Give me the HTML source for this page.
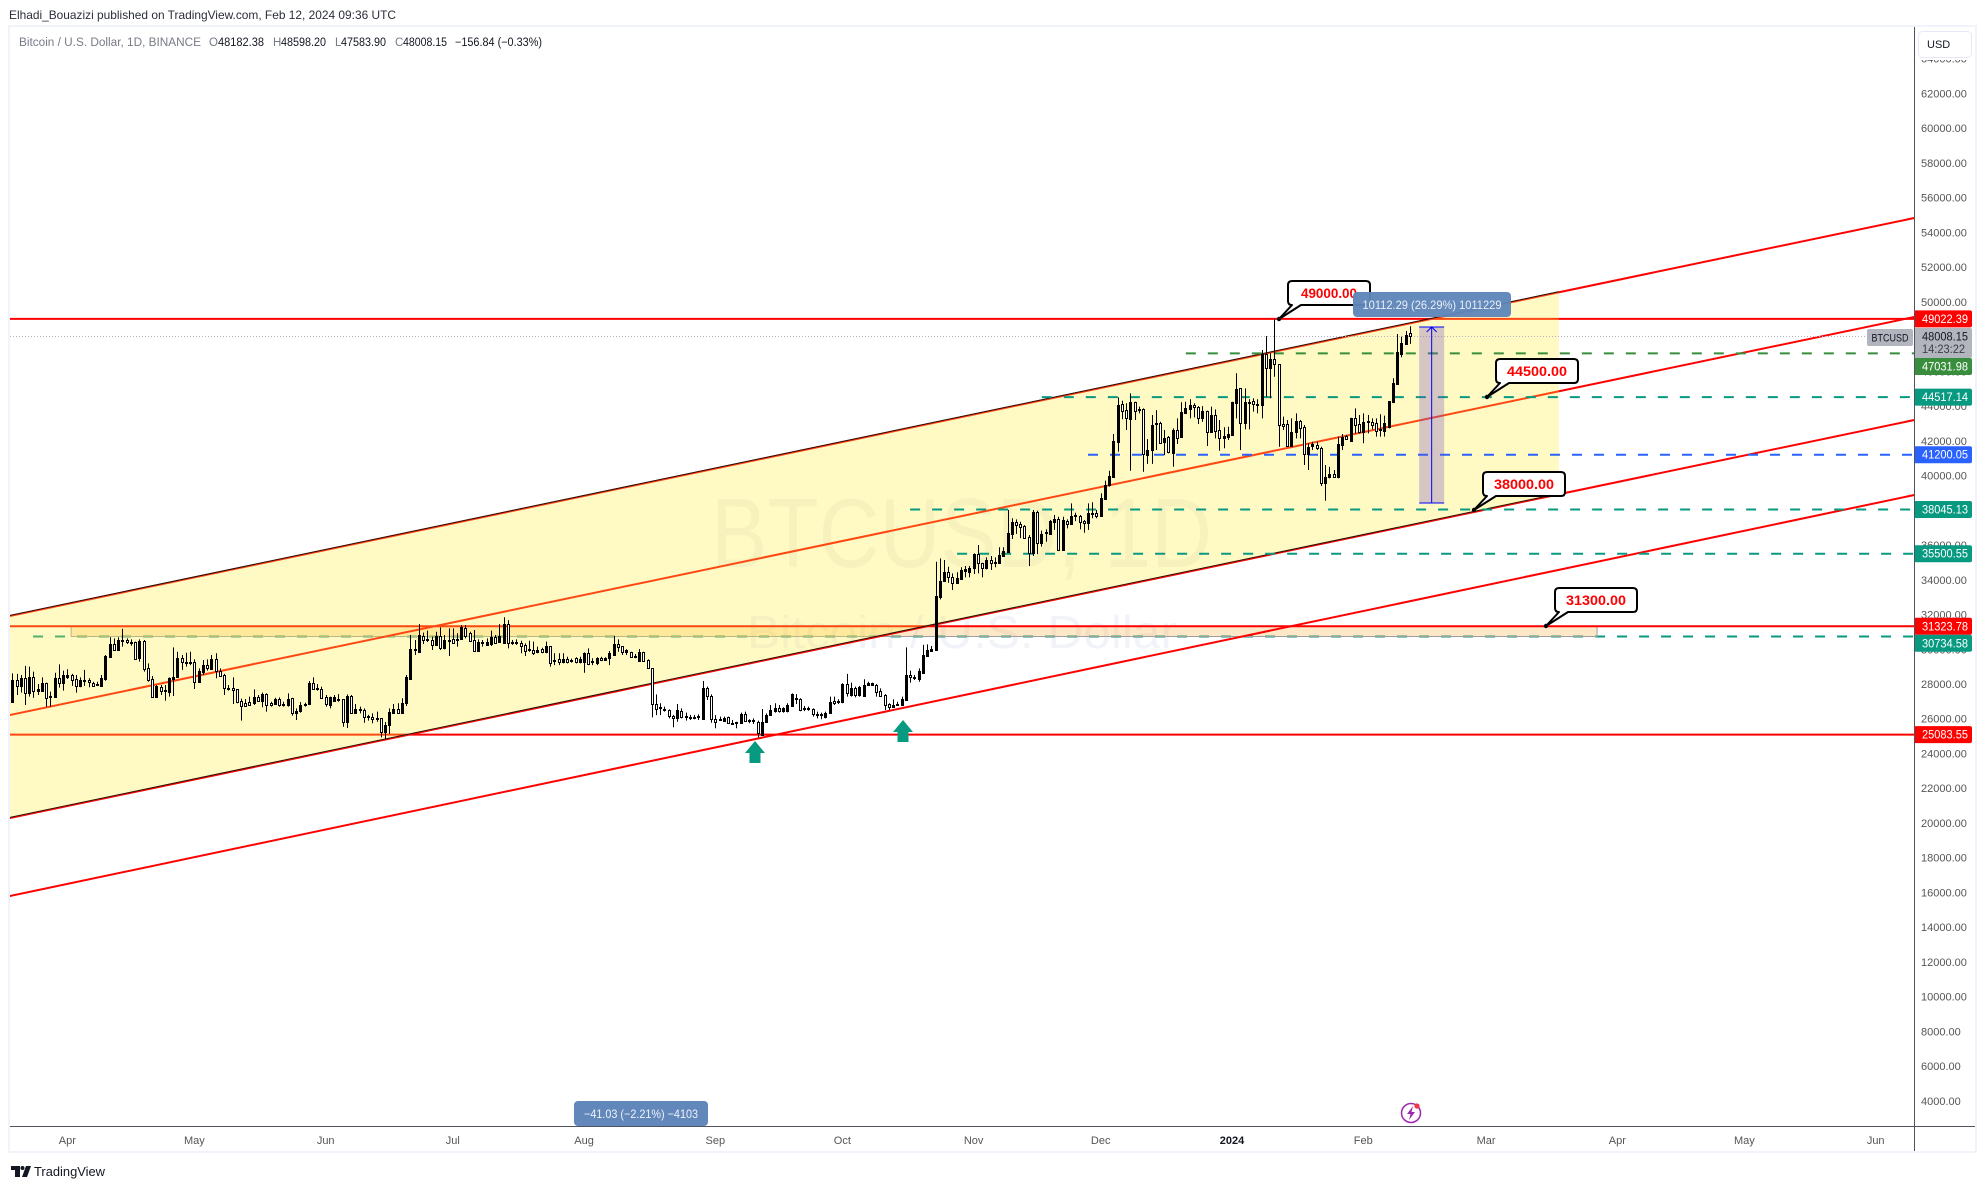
<!DOCTYPE html>
<html lang="en">
<head>
<meta charset="utf-8">
<title>BTCUSD 1D chart</title>
<style>
html,body{margin:0;padding:0;background:#fff;width:1986px;height:1189px;overflow:hidden}
svg{position:absolute;left:0;top:0;display:block}
text{font-family:"Liberation Sans",sans-serif}
</style>
</head>
<body>
<svg id="chart" width="1986" height="1189" viewBox="0 0 1986 1189" xmlns="http://www.w3.org/2000/svg">
  <defs>
    <clipPath id="pane"><rect x="10" y="27" width="1904" height="1099"/></clipPath>
  </defs>
  <text x="9" y="19" font-size="12" fill="#2a2e39" textLength="387" lengthAdjust="spacingAndGlyphs">Elhadi_Bouazizi published on TradingView.com, Feb 12, 2024 09:36 UTC</text>

  <g id="paneLayer" clip-path="url(#pane)">
    <text x="711" y="567" font-size="98" fill="#2a2e39" fill-opacity="0.05" textLength="501" lengthAdjust="spacingAndGlyphs">BTCUSD, 1D</text>
    <text x="747" y="648" font-size="46" fill="#3a5ab0" fill-opacity="0.07" textLength="430" lengthAdjust="spacingAndGlyphs">Bitcoin / U.S. Dollar</text>
    <g id="underLayer"></g>
    <g id="fillLayer"></g>
    <g id="candleLayer"></g>
    <g id="toolLayer"></g>
  </g>

  <polygon points="755,741 765,753 760.5,753 760.5,763 749.5,763 749.5,753 745,753" fill="#089981"/>
  <polygon points="903,720 913,732 908.5,732 908.5,742 897.5,742 897.5,732 893,732" fill="#089981"/>

  <g transform="translate(0,0)">
    <path d="M1292,281 H1366 Q1370,281 1370,285 V301 Q1370,305 1366,305 H1301 L1279,319 L1292,305 Q1288,305 1288,301 V285 Q1288,281 1292,281Z" fill="#fff" stroke="#000" stroke-width="2" stroke-linejoin="round"/>
    <circle cx="1279" cy="319" r="2.2" fill="#000"/>
    <text x="1329" y="298" text-anchor="middle" font-size="14" font-weight="700" fill="#ff0000" textLength="56" lengthAdjust="spacingAndGlyphs">49000.00</text>
  </g>
  <g transform="translate(208,78)">
    <path d="M1292,281 H1366 Q1370,281 1370,285 V301 Q1370,305 1366,305 H1301 L1279,319 L1292,305 Q1288,305 1288,301 V285 Q1288,281 1292,281Z" fill="#fff" stroke="#000" stroke-width="2" stroke-linejoin="round"/>
    <circle cx="1279" cy="319" r="2.2" fill="#000"/>
    <text x="1329" y="298" text-anchor="middle" font-size="14" font-weight="700" fill="#ff0000" textLength="60" lengthAdjust="spacingAndGlyphs">44500.00</text>
  </g>
  <g transform="translate(195,191)">
    <path d="M1292,281 H1366 Q1370,281 1370,285 V301 Q1370,305 1366,305 H1301 L1279,319 L1292,305 Q1288,305 1288,301 V285 Q1288,281 1292,281Z" fill="#fff" stroke="#000" stroke-width="2" stroke-linejoin="round"/>
    <circle cx="1279" cy="319" r="2.2" fill="#000"/>
    <text x="1329" y="298" text-anchor="middle" font-size="14" font-weight="700" fill="#ff0000" textLength="60" lengthAdjust="spacingAndGlyphs">38000.00</text>
  </g>
  <g transform="translate(267,307)">
    <path d="M1292,281 H1366 Q1370,281 1370,285 V301 Q1370,305 1366,305 H1301 L1279,319 L1292,305 Q1288,305 1288,301 V285 Q1288,281 1292,281Z" fill="#fff" stroke="#000" stroke-width="2" stroke-linejoin="round"/>
    <circle cx="1279" cy="319" r="2.2" fill="#000"/>
    <text x="1329" y="298" text-anchor="middle" font-size="14" font-weight="700" fill="#ff0000" textLength="60" lengthAdjust="spacingAndGlyphs">31300.00</text>
  </g>

  <g>
    <rect x="1353" y="292" width="158" height="25" rx="4" fill="#5f86ba" fill-opacity="0.96"/>
    <text x="1432" y="309" text-anchor="middle" font-size="12" fill="#e9eef6" textLength="139" lengthAdjust="spacingAndGlyphs">10112.29 (26.29%) 1011229</text>
  </g>

  <rect x="1915" y="27" width="61" height="1125" fill="#fff"/>
  <g id="tickLayer"></g>
  <rect x="1915" y="27" width="61" height="33" fill="#fff"/>
  <rect x="1918.5" y="31.5" width="53" height="26" rx="4" fill="#fff" stroke="#e6e9f1"/>
  <text x="1927" y="48" font-size="11" fill="#131722">USD</text>
  <g id="badgeLayer"></g>

  <rect x="1867" y="329" width="46" height="17" rx="2" fill="#b2b5be"/>
  <text x="1890" y="341.5" text-anchor="middle" font-size="11" fill="#131722" textLength="37" lengthAdjust="spacingAndGlyphs">BTCUSD</text>

  <g id="timeLayer"></g>
  <g>
    <rect x="574" y="1101" width="134" height="25" rx="4" fill="#6288bb"/>
    <text x="641" y="1118" text-anchor="middle" font-size="12" fill="#eef2f8" textLength="114" lengthAdjust="spacingAndGlyphs">−41.03 (−2.21%) −4103</text>
  </g>
  <g>
    <circle cx="1411" cy="1113" r="9.5" fill="none" stroke="#9c27b0" stroke-width="1.5"/>
    <polygon points="1413,1106 1407,1114 1410.5,1114 1409,1120 1415,1112 1411.5,1112" fill="#9c27b0"/>
    <circle cx="1417" cy="1106" r="2.6" fill="#f23645"/>
  </g>

  <rect x="8" y="25" width="1969" height="2" fill="#f0f3fa"/>
  <rect x="8" y="25" width="2" height="1128" fill="#f0f3fa"/>
  <rect x="1975" y="25" width="2" height="1128" fill="#f0f3fa"/>
  <rect x="8" y="1151" width="1969" height="2" fill="#f0f3fa"/>
  <rect x="1914" y="27" width="1" height="1124" fill="#50535e"/>
  <rect x="10" y="1126" width="1965" height="1" fill="#50535e"/>

  <g>
    <path d="M11,1166 H20 V1177 H15 V1170 H11 Z M26,1166 H31 L27,1177 H22 Z" fill="#131722"/>
    <circle cx="22.5" cy="1168" r="2" fill="#131722"/>
    <text x="34" y="1176" font-size="13" fill="#131722" textLength="71" lengthAdjust="spacingAndGlyphs">TradingView</text>
  </g>

  <g font-size="11.5">
    <text x="19" y="46" fill="#787b86" textLength="182" lengthAdjust="spacingAndGlyphs">Bitcoin / U.S. Dollar, 1D, BINANCE</text>
    <text x="209" y="46" fill="#787b86">O</text>
    <text x="218" y="46" fill="#131722" textLength="46" lengthAdjust="spacingAndGlyphs">48182.38</text>
    <text x="273" y="46" fill="#787b86">H</text>
    <text x="281" y="46" fill="#131722" textLength="45" lengthAdjust="spacingAndGlyphs">48598.20</text>
    <text x="335" y="46" fill="#787b86">L</text>
    <text x="341" y="46" fill="#131722" textLength="45" lengthAdjust="spacingAndGlyphs">47583.90</text>
    <text x="395" y="46" fill="#787b86">C</text>
    <text x="403" y="46" fill="#131722" textLength="44" lengthAdjust="spacingAndGlyphs">48008.15</text>
    <text x="455" y="46" fill="#131722" textLength="87" lengthAdjust="spacingAndGlyphs">−156.84 (−0.33%)</text>
  </g>
</svg>

<script>
const opens=[
26980,28230,27890,28330,27500,28420,27620,27620,28040,27230,
27250,28330,28080,28420,28520,28270,27890,28150,28230,28080,
27940,27890,28270,29570,30280,29960,30480,30530,30380,30440,
29480,30500,28900,28270,27270,27850,27650,27560,28310,28380,
29480,29290,29190,29250,28130,28710,29090,28860,29420,28750,
28500,27710,27750,27690,27000,26890,26940,26890,27250,27040,
27400,26890,26870,27140,26850,26790,27180,26350,26460,26770,
26850,28040,27770,27710,27250,26790,27020,27080,27120,25830,
27310,26350,26540,26500,26160,26100,25960,26040,25220,25640,
26310,26540,26350,26890,28290,29960,29840,30760,30530,30530,
30250,30760,30050,30460,30570,30530,30570,31240,30920,30530,
29920,30370,30250,30280,30720,30440,30340,31450,30340,30360,
30380,30250,29960,29960,29820,29990,29820,30190,29310,29420,
29250,29420,29310,29480,29250,29250,29770,29250,29190,29480,
29400,29480,29670,30300,30190,29860,29820,29530,29340,29820,
29380,28900,26830,26700,26580,26480,26180,26020,26440,26080,
26040,26060,26160,25990,27750,27310,25960,25930,25890,26080,
25780,25740,25730,26250,25890,25850,25830,25060,25790,26210,
26460,26640,26440,26440,26730,27210,27120,26560,26560,26540,
26210,26290,26120,26310,27020,26980,26940,28000,27370,27750,
27370,27330,27960,27960,27940,27600,27370,26850,26700,26790,
26790,27080,28500,28350,28310,28650,29610,29920,
29960,
33030,33930,34470,34140,33830,34060,34530,34450,34660,35480,
34950,34680,35140,35020,34990,35390,35620,36640,37330,37210,
37100,36440,35560,37920,36140,36680,36640,37350,37480,35710,
37380,37210,37680,37670,37380,37250,37820,37830,37670,38670,
39440,39940,41950,44100,43770,43260,44220,43810,43810,41200,
41470,42970,43050,41950,42240,41320,42620,42200,43620,43850,
44040,43930,43330,43700,42530,43490,42620,42140,42240,42340,
44200,45020,43010,44250,44290,44120,44060,47000,46170,46690,
46400,42950,42950,41720,42490,43140,42780,41220,41720,41760,
41570,39550,39900,40070,39900,41760,42280,42010,43290,42950,
42530,43100,43100,43010,42680,42580,42780,44250,45270,46980,47570,48182.38
];
const highs=[
28610,28580,28520,29040,29000,28710,28000,28380,28080,27560,
28650,29130,28770,28850,28580,28520,28380,28810,28330,28130,
28130,28520,29670,30690,30630,30690,31170,30630,30570,30440,
30570,30530,29190,28460,27940,27940,27940,28380,30110,29860,
29670,29800,29860,29420,28900,29380,29420,29670,29770,28900,
28580,27940,28380,27690,27160,27140,27270,27690,27370,27500,
27460,26980,27210,27230,26980,27460,27210,26600,26960,26920,
28170,28380,28000,27850,27370,27270,27370,27420,27120,27400,
27370,26850,26700,26600,26220,26310,26410,26040,25810,26600,
26850,26890,27180,28520,30820,30530,31450,30960,31070,30730,
31010,31260,30820,31200,31200,30920,31400,31400,31010,31110,
30570,30530,30630,31070,30820,31450,31840,31680,30530,30570,
30490,30340,30490,30440,30150,30090,30440,30190,29770,29770,
29770,29570,29460,29540,29570,29820,30050,29480,29540,29570,
29540,29900,30760,30570,30190,30010,29860,29730,30010,29860,
29420,28900,27400,26890,26700,26540,26220,26850,26600,26350,
26220,26220,26250,28170,27850,27400,26210,26120,26120,26120,
25930,25830,26350,26410,25970,26020,25890,26560,26310,26790,
26890,26790,26660,26890,27460,27420,27180,26730,26700,26600,
26410,26350,26410,27270,27270,27120,28040,28580,28080,27850,
27890,28270,28130,28080,28000,27750,27420,26890,27120,26980,
27270,30110,28770,28520,28900,30250,30280,30190,
35040,
35230,35140,34750,34370,34430,34720,34790,34790,35520,36000,
34980,35290,35370,35290,35870,35870,38020,37540,37480,37340,
37150,36580,38020,37980,36830,36900,37440,37730,37630,37630,
37480,38400,37860,37730,37440,38400,38460,38020,38980,39710,
40280,42390,44500,44310,44160,44730,44250,43970,43870,42100,
43490,43770,43100,42620,42280,42720,43290,44220,44250,44390,
44160,44000,44000,43740,43970,43810,43200,42780,42810,44250,
45890,45020,45020,44390,44450,44390,47230,48030,47040,48990,
46400,43390,43200,43290,43580,43200,42910,41860,41950,41950,
41660,40610,40510,40320,42240,42390,42340,43330,43870,43490,
43580,43490,43290,43290,43530,43450,44290,45600,48150,48000,48320,48598.2
];
const lows=[
26930,27370,27500,26790,27270,27210,27370,27560,26700,26700,
27230,27790,27620,28290,27890,27500,27810,27890,27810,27890,
27890,27850,28190,29530,29920,29920,30150,30300,30210,29380,
29290,28710,28130,27230,27230,27370,27040,27270,27310,28380,
28810,29000,29090,27710,28080,28520,28770,28840,28330,28420,
27370,27620,26850,26890,25890,26700,26730,26790,26980,26660,
26410,26700,26790,26700,26700,26700,26180,25930,26350,26700,
26790,27660,27620,27170,26700,26600,26980,26980,25540,25470,
26270,26270,26310,25770,25890,25740,25830,24930,24850,25120,
26270,26270,26350,26730,28290,29670,29840,30300,30420,29960,
30210,29960,29990,29610,30300,30150,30530,30630,30440,29860,
29860,30150,30190,30190,30340,30380,30340,30050,30250,30250,
29770,29610,29860,29670,29770,29770,29770,29000,29090,29090,
29190,29190,29230,29190,29190,28650,29090,29090,29090,29320,
29340,29090,29670,29860,29670,29670,29540,29480,29320,29270,
28860,26080,26210,26210,26410,26020,25510,25830,26020,25890,
25930,25970,25930,25930,27080,25770,25450,25870,25830,25700,
25640,25450,25700,25830,25740,25700,24930,25010,25770,26160,
26350,26350,26350,26370,26700,26850,26430,26440,26460,26120,
26020,25970,26020,26270,26790,26850,26890,27270,27270,27230,
27270,27270,27890,27890,27270,27270,26500,26500,26660,26730,
26730,27080,28080,28230,28130,28610,29570,29860,
29920,
32870,33890,33830,33410,33800,34020,34140,34140,34330,34370,
34140,34600,34560,34720,34950,35370,35560,36350,36640,36400,
36390,34790,35370,35480,35910,36190,36580,36870,35680,35680,
36960,37210,37380,36900,36710,36870,37540,37540,37630,38630,
39360,39900,41380,43240,42620,40280,43200,43580,40220,40670,
40670,41470,41860,41180,41280,40510,41820,42180,43580,43290,
43350,42970,43100,41700,42470,42140,41430,41570,42050,42340,
43290,41470,42660,42660,43680,43580,43290,44540,44450,45690,
41660,42620,41720,41660,42140,42140,40610,40320,41470,41470,
39400,38550,39840,39900,39840,41470,42050,41950,42430,42430,
41860,42430,42660,42240,42240,42240,42720,44220,45270,46810,47520,47583.9
];
const closes=[
28230,27890,28330,27500,28380,27620,27700,28040,27210,27290,
28330,28080,28520,28500,28230,27890,28230,28230,28100,27910,
28020,28330,29610,30280,29960,30530,30530,30400,30440,29440,
30500,28860,28230,27270,27890,27620,27580,28330,28420,29480,
29290,29190,29270,28130,28750,29090,28900,29420,28750,28480,
27750,27790,27680,26980,26750,26750,26770,27230,27040,27420,
26790,26810,27140,26770,26770,27160,26350,26460,26770,26850,
28040,27730,27690,27210,26830,27250,27250,27160,25830,27310,
26350,26540,26580,26120,26080,25970,26040,25260,25620,26390,
26560,26350,26910,28380,29990,30040,30820,30530,30610,30250,
30760,30050,30530,30530,30380,30610,31260,30760,30500,29920,
30440,30440,30440,30720,30380,30760,31450,30380,30410,30440,
30210,29920,30030,29800,29960,29860,30190,29230,29380,29250,
29420,29250,29380,29290,29420,29770,29150,29310,29480,29380,
29480,29770,30300,30150,29860,29940,29570,29610,29820,29320,
28900,26830,26560,26620,26500,26180,26020,26500,26120,26160,
26120,26120,26080,27750,27310,25960,25830,26000,26020,25770,
25700,25810,26250,25890,25930,25930,25160,25790,26210,26500,
26640,26460,26600,26790,27400,27120,26500,26640,26640,26250,
26290,26210,26310,26980,26890,27000,28000,27460,27750,27370,
27810,27940,28040,28040,27560,27330,26790,26700,26790,26870,
27120,28500,28380,28420,28730,29670,29960,30000,
33070,
33930,34470,34140,33830,34100,34560,34600,34680,35480,34950,
34700,35140,34990,34950,35430,35660,36670,37330,37170,37060,
36420,35520,37920,36140,36640,36740,37380,37480,35710,37440,
37210,37670,37730,37330,37250,37830,37860,37690,38710,39440,
39970,41990,44060,43740,43290,44220,43740,43760,41220,41470,
42910,43050,41890,42140,41340,42620,42180,43640,43890,44040,
43930,43330,43700,42530,43490,42590,42140,42280,42370,44240,
44980,43010,44220,44180,44100,44040,47000,46170,46690,46400,
42910,42870,41720,42490,43140,42760,41220,41630,41800,41570,
39550,39900,40070,39940,41820,42240,42090,43290,42910,42530,
43100,43160,42910,42580,42700,43010,44290,45310,47130,47610,48090,48008.15
];

const priceTicks=[4000,6000,8000,10000,12000,14000,16000,18000,20000,22000,24000,26000,28000,30000,32000,34000,36000,38000,40000,42000,44000,46000,48000,50000,52000,54000,56000,58000,60000,62000,64000];
const monthNames=["Apr","May","Jun","Jul","Aug","Sep","Oct","Nov","Dec","2024","Feb","Mar","Apr","May","Jun"];
const monthBars=[13,43,74,104,135,166,196,227,257,288,319,348,379,409,440];

const lineBars=[-1,450];
const channelUpper=[31892,54874];
const channelMiddle=[26192,49174];
const channelLower=[20262,43244];
const supportLine=[15772,38927];
const channelEndBar=365.2;

const solidLevels=[49022.39,31323.78,25083.55];
const dashedLevels=[47031.98,44517.14,41200.05,38045.13,35500.55];
const dashedStartBars=[277.1,243.1,254,212,223.1];
const dashedColors=["#388e3c","#089981","#2962ff","#089981","#089981"];
const zoneFloorLevel=30734.58;
const zoneFloorStartBar=4.9;
const zoneBars=[13.9,374.2];
const zonePrices=[31323.78,30734.58];
const rangeBars=[332.2,338.1];
const rangePrices=[48553,38420];
const lastPrice=48008.15;

const badgePrices=[49022.39,48008.15,47031.98,44517.14,41200.05,38045.13,35500.55,31323.78,30734.58,25083.55];
const badgeLabels=["49022.39","48008.15","47031.98","44517.14","41200.05","38045.13","35500.55","31323.78","30734.58","25083.55"];
const badgeColors=["#ff0000","#b2b5be","#388e3c","#089981","#2962ff","#089981","#089981","#ff0000","#089981","#ff0000"];
const countdownText="14:23:22";

const NS="http://www.w3.org/2000/svg";
function xAxis(bar){return 12.3+bar*4.235;}
function yAxis(price){return 684+(28000-price)*0.01737;}
function make(tag,parent,attrs){
  const el=document.createElementNS(NS,tag);
  for(const k in attrs){el.setAttribute(k,attrs[k]);}
  parent.appendChild(el);
  return el;
}
const under=document.getElementById("underLayer");
const fillL=document.getElementById("fillLayer");
const candleL=document.getElementById("candleLayer");
const toolL=document.getElementById("toolLayer");
const tickL=document.getElementById("tickLayer");
const badgeL=document.getElementById("badgeLayer");
const timeL=document.getElementById("timeLayer");

function lineY(series,bar){
  const t=(bar-lineBars[0])/(lineBars[1]-lineBars[0]);
  return yAxis(series[0]+(series[1]-series[0])*t);
}

/* zone floor level sits beneath the zone and the channel fill */
const floorLine=make("line",under,{x1:xAxis(zoneFloorStartBar),x2:1914,y1:yAxis(zoneFloorLevel),y2:yAxis(zoneFloorLevel),stroke:"#089981","stroke-width":"2","stroke-dasharray":"10 12"});



/* zone */
const zone=make("rect",under,{x:xAxis(zoneBars[0]),y:yAxis(zonePrices[0]),width:xAxis(zoneBars[1])-xAxis(zoneBars[0]),height:yAxis(zonePrices[1])-yAxis(zonePrices[0]),fill:"#ff9800","fill-opacity":"0.22"});


const zoneEdge=make("path",under,{d:"M"+xAxis(zoneBars[0])+" "+yAxis(zonePrices[0])+"V"+yAxis(zonePrices[1])+"H"+xAxis(zoneBars[1])+"V"+yAxis(zonePrices[0]),fill:"none",stroke:"#9e9e9e","stroke-width":"1"});



/* solid levels */
solidLevels.forEach(function(p){
  const s=make("line",under,{x1:10,x2:1914,y1:yAxis(p),y2:yAxis(p),stroke:"#ff0000","stroke-width":"2"});
  
  
});

/* trend lines */
[channelUpper,channelMiddle,channelLower,supportLine].forEach(function(series){
  const t=make("line",under,{x1:xAxis(lineBars[0]),x2:xAxis(lineBars[1]),y1:yAxis(series[0]),y2:yAxis(series[1]),stroke:"#ff0000","stroke-width":"2"});
  
  
});

/* channel fill */
const fx0=xAxis(lineBars[0]),fx1=xAxis(channelEndBar);
const fillPoly=make("polygon",fillL,{points:[fx0+","+lineY(channelUpper,lineBars[0]),fx1+","+lineY(channelUpper,channelEndBar),fx1+","+lineY(channelLower,channelEndBar),fx0+","+lineY(channelLower,lineBars[0])].join(" "),fill:"#ffeb3b","fill-opacity":"0.3"});


[channelUpper,channelLower].forEach(function(series){
  const b=make("line",fillL,{x1:fx0,x2:fx1,y1:lineY(series,lineBars[0])-0.6,y2:lineY(series,channelEndBar)-0.6,stroke:"#2a1208","stroke-width":"1"});
  
  
});

/* dashed levels above the fill */
dashedLevels.forEach(function(p,i){
  const d=make("line",fillL,{x1:xAxis(dashedStartBars[i]),x2:1914,y1:yAxis(p),y2:yAxis(p),stroke:dashedColors[i],"stroke-width":"2","stroke-dasharray":"10 12"});
  
  
});

/* last price dotted line */
const lp=make("line",fillL,{x1:10,x2:1867,y1:yAxis(lastPrice),y2:yAxis(lastPrice),stroke:"#b2b5be","stroke-width":"1","stroke-dasharray":"1 2"});



/* candles */
opens.forEach(function(o,i){
  const c=closes[i];
  const cx=Math.round(xAxis(i))+0.5;
  const up=c>=o;
  const wick=make("line",candleL,{x1:cx,x2:cx,y1:yAxis(highs[i]),y2:yAxis(lows[i]),stroke:"#000","stroke-width":"1"});
  
  
  const top=Math.round(yAxis(Math.max(o,c)));
  const bot=Math.round(yAxis(Math.min(o,c)));
  const h=Math.max(bot-top,1);
  let body;
  if(up){
    body=make("rect",candleL,{x:cx-1.5,y:top,width:3,height:h+1,fill:"#000"});
  }else{
    body=make("rect",candleL,{x:cx-1,y:top+0.5,width:2,height:h,fill:"#fff",stroke:"#000","stroke-width":"1"});
  }
  
  
});

/* price range tool */
const rx0=xAxis(rangeBars[0]),rx1=xAxis(rangeBars[1]);
const ry0=yAxis(rangePrices[0]),ry1=yAxis(rangePrices[1]);
const rr=make("rect",toolL,{x:rx0,y:ry0,width:rx1-rx0,height:ry1-ry0,fill:"#7350c4","fill-opacity":"0.3"});


const rt=make("line",toolL,{x1:rx0,x2:rx1,y1:ry0,y2:ry0,stroke:"#0000ff","stroke-width":"1"});


const rb=make("line",toolL,{x1:rx0,x2:rx1,y1:ry1,y2:ry1,stroke:"#0000ff","stroke-width":"1"});


const rmid=(rx0+rx1)/2;
const rc=make("line",toolL,{x1:rmid,x2:rmid,y1:ry0,y2:ry1,stroke:"#0000ff","stroke-width":"1"});


const ra=make("path",toolL,{d:"M"+(rmid-5)+" "+(ry0+5)+"L"+rmid+" "+ry0+"L"+(rmid+5)+" "+(ry0+5),fill:"none",stroke:"#0000ff","stroke-width":"1"});



/* price ticks */
priceTicks.forEach(function(p){
  const t=make("text",tickL,{x:1921,y:yAxis(p)+4,"font-size":"11",fill:"#555"});
  
  
  t.textContent=p.toFixed(2);
});

/* price badges, pushed down when they would overlap */
let prevBottom=-1;
badgePrices.forEach(function(p,i){
  const isLast=p===lastPrice;
  const h=isLast?30:17;
  const top=Math.max(yAxis(p)-8.5,prevBottom);
  prevBottom=top+h;
  const r=make("rect",badgeL,{x:1914,y:top,width:58,height:h,rx:2,fill:badgeColors[i]});
  
  
  const label=make("text",badgeL,{x:1922,y:top+12.5,"font-size":"11.5",fill:isLast?"#131722":"#ffffff",textLength:"46",lengthAdjust:"spacingAndGlyphs"});
  
  
  label.textContent=badgeLabels[i];
  if(isLast){
    const cd=make("text",badgeL,{x:1922,y:top+25,"font-size":"11.5",fill:"#3a3d46",textLength:"43",lengthAdjust:"spacingAndGlyphs"});
    
    
    cd.textContent=countdownText;
  }
});

/* time labels */
monthNames.forEach(function(m,i){
  const t=make("text",timeL,{x:xAxis(monthBars[i]),y:1144,"text-anchor":"middle","font-size":"11",fill:m==="2024"?"#131722":"#555","font-weight":m==="2024"?"700":"400"});
  
  
  t.textContent=m;
});
</script>
</body>
</html>
